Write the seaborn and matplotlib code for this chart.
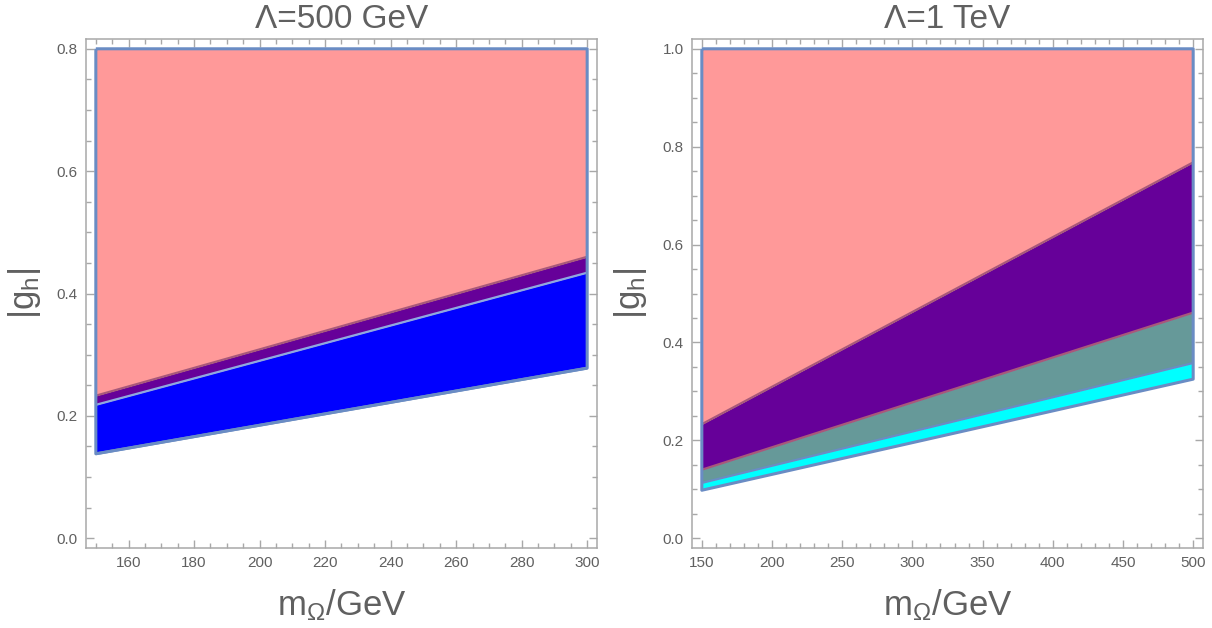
import matplotlib
matplotlib.use("Agg")
import matplotlib.pyplot as plt
from matplotlib.ticker import MultipleLocator
import numpy as np
import pandas as pd
import seaborn as sns

# ---- data ----
m_left = [150, 300]
left_lower = [0.138, 0.278]
left_blue_top = [0.218, 0.434]
left_purple_top = [0.233, 0.460]
left_ymax = 0.8

m_right = [150, 500]
right_lower = [0.098, 0.325]
right_cyan_top = [0.113, 0.358]
right_teal_top = [0.140, 0.461]
right_purple_top = [0.233, 0.768]
right_ymax = 1.0

titles = ["Λ=500 GeV", "Λ=1 TeV"]

sns.set_theme(style="white")
plt.rcParams["font.family"] = ["Liberation Sans", "DejaVu Sans"]
plt.rcParams["mathtext.fontset"] = "custom"
plt.rcParams["mathtext.rm"] = "Liberation Sans"
plt.rcParams["mathtext.it"] = "Liberation Sans"

PINK = "#FF9999"
PURPLE = "#660099"
BLUE = "#0000FF"
TEAL = "#669999"
CYAN = "#00FFFF"
EDGE = "#6A8CC4"
REDEDGE = "#A8587A"
LIGHTEDGE = "#8FA8E0"
TXT = "#606060"
FRAME = "#A8A8A8"

fig = plt.figure(figsize=(12.12, 6.28), dpi=100)
axL = fig.add_axes([86/1212, 1-548/628, (597-86)/1212, (548-39)/628])
axR = fig.add_axes([692/1212, 1-548/628, (1203-692)/1212, (548-39)/628])


def style(ax, xlim, ylim, xmaj, xmin, ymaj, ymin, title):
    ax.set_xlim(*xlim)
    ax.set_ylim(*ylim)
    ax.xaxis.set_major_locator(MultipleLocator(xmaj))
    ax.xaxis.set_minor_locator(MultipleLocator(xmin))
    ax.yaxis.set_major_locator(MultipleLocator(ymaj))
    ax.yaxis.set_minor_locator(MultipleLocator(ymin))
    ax.tick_params(which="both", direction="in", top=True, right=True,
                   bottom=True, left=True,
                   color=FRAME, labelcolor=TXT, labelsize=11, width=1)
    ax.tick_params(which="major", length=6, pad=6)
    ax.tick_params(which="minor", length=3.5)
    for s in ax.spines.values():
        s.set_color(FRAME)
        s.set_linewidth(1.1)
    ax.set_xlabel(r"$\mathrm{m}_{\Omega}$/GeV", fontsize=25, color=TXT, labelpad=12)
    ax.set_ylabel(r"$|\mathrm{g}_{\mathrm{h}}|$", fontsize=25, color=TXT, labelpad=10)
    ax.set_title(title, fontsize=24, color=TXT, pad=8)


def boundary(ax, x, y, color, lw):
    df = pd.DataFrame({"x": x, "y": y})
    sns.lineplot(data=df, x="x", y="y", ax=ax, color=color, lw=lw,
                 legend=False, sort=False, estimator=None,
                 solid_capstyle="butt", zorder=5)


# ---- left panel ----
x = np.array(m_left, dtype=float)
top = np.full_like(x, left_ymax)
axL.fill_between(x, left_lower, left_blue_top, color=BLUE, lw=0, zorder=2)
axL.fill_between(x, left_blue_top, left_purple_top, color=PURPLE, lw=0, zorder=2)
axL.fill_between(x, left_purple_top, top, color=PINK, lw=0, zorder=2)
boundary(axL, x, left_purple_top, REDEDGE, 1.6)
boundary(axL, x, left_blue_top, LIGHTEDGE, 1.6)
boundary(axL, x, left_lower, EDGE, 2)
boundary(axL, [x[0], x[-1], x[-1], x[0], x[0]],
          [left_ymax, left_ymax, left_lower[-1], left_lower[0], left_ymax], EDGE, 2.2)
style(axL, (147, 303), (-0.016, 0.816), 20, 5, 0.2, 0.05, titles[0])

# ---- right panel ----
x = np.array(m_right, dtype=float)
top = np.full_like(x, right_ymax)
axR.fill_between(x, right_lower, right_cyan_top, color=CYAN, lw=0, zorder=2)
axR.fill_between(x, right_cyan_top, right_teal_top, color=TEAL, lw=0, zorder=2)
axR.fill_between(x, right_teal_top, right_purple_top, color=PURPLE, lw=0, zorder=2)
axR.fill_between(x, right_purple_top, top, color=PINK, lw=0, zorder=2)
boundary(axR, x, right_purple_top, REDEDGE, 1.6)
boundary(axR, x, right_teal_top, REDEDGE, 1.6)
boundary(axR, x, right_cyan_top, EDGE, 1.6)
boundary(axR, [x[0], x[-1], x[-1], x[0], x[0]],
          [right_ymax, right_ymax, right_lower[-1], right_lower[0], right_ymax], EDGE, 2.2)
style(axR, (143, 507), (-0.02, 1.02), 50, 10, 0.2, 0.05, titles[1])

fig.savefig("out.png", dpi=100)
